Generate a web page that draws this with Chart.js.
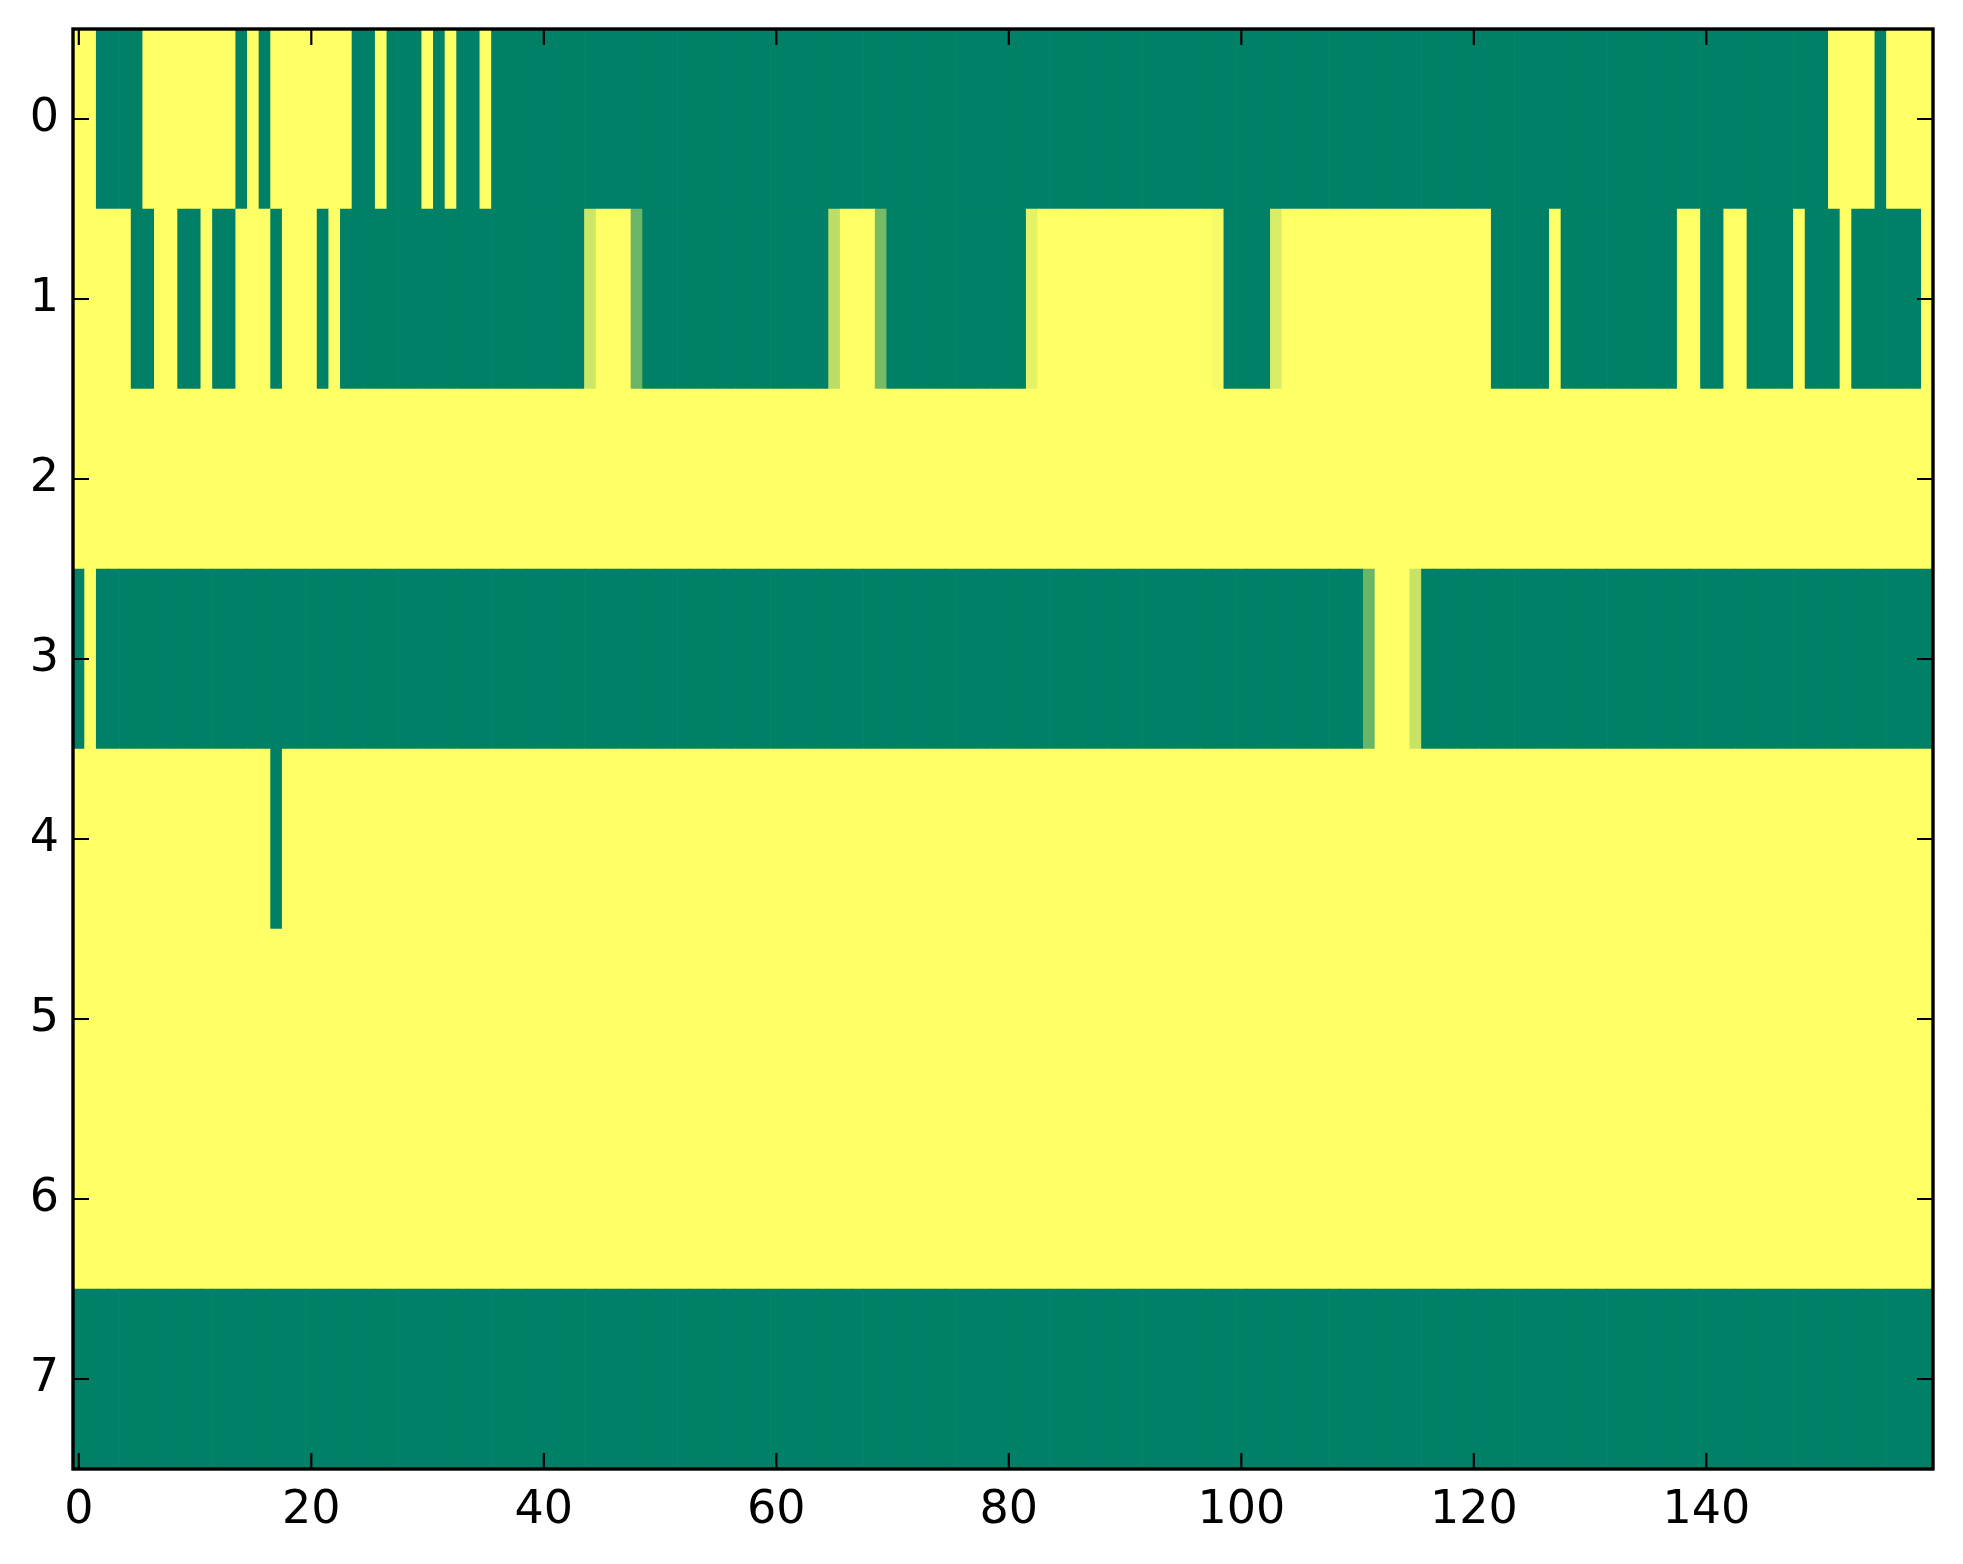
<!DOCTYPE html>
<html>
<head>
<meta charset="utf-8">
<script src="https://cdn.jsdelivr.net/npm/chart.js@4.4.1/dist/chart.umd.min.js"></script>
<style>
  html, body { margin: 0; padding: 0; background: #ffffff; }
  #wrap { width: 1963px; height: 1564px; }
</style>
</head>
<body>
<div id="wrap"><canvas id="c" width="1963" height="1564"></canvas></div>
<script>
// ---- data (cell values, 0 = green, 1 = yellow, "summer" colormap) ----
const rowLabels = ['0', '1', '2', '3', '4', '5', '6', '7'];
const xTickValues = [0, 20, 40, 60, 80, 100, 120, 140];

const row0 = [
  1,1,0,0,0,0,1,1,1,1,1,1,1,1,0,1,0,1,1,1,
  1,1,1,1,0,0,1,0,0,0,1,0,1,0,0,1,0,0,0,0,
  0,0,0,0,0,0,0,0,0,0,0,0,0,0,0,0,0,0,0,0,
  0,0,0,0,0,0,0,0,0,0,0,0,0,0,0,0,0,0,0,0,
  0,0,0,0,0,0,0,0,0,0,0,0,0,0,0,0,0,0,0,0,
  0,0,0,0,0,0,0,0,0,0,0,0,0,0,0,0,0,0,0,0,
  0,0,0,0,0,0,0,0,0,0,0,0,0,0,0,0,0,0,0,0,
  0,0,0,0,0,0,0,0,0,0,0,1,1,1,1,0,1,1,1,1
];
const row1 = [
  1,1,1,1,1,0,0,1,1,0,0,1,0,0,1,1,1,0,1,1,
  1,0,1,0,0,0,0,0,0,0,0,0,0,0,0,0,0,0,0,0,
  0,0,0,0,0.8,1,1,1,0.42,0,0,0,0,0,0,0,0,0,0,0,
  0,0,0,0,0,0.74,1,1,1,0.47,0,0,0,0,0,0,0,0,0,0,
  0,0,0.9,1,1,1,1,1,1,1,1,1,1,1,1,1,1,1,0.96,0,
  0,0,0,0.85,1,1,1,1,1,1,1,1,1,1,1,1,1,1,1,1,
  1,1,0,0,0,0,0,1,0,0,0,0,0,0,0,0,0,0,1,1,
  0,0,1,1,0,0,0,0,1,0,0,0,1,0,0,0,0,0,0,1
];
const row2 = [
  1,1,1,1,1,1,1,1,1,1,1,1,1,1,1,1,1,1,1,1,
  1,1,1,1,1,1,1,1,1,1,1,1,1,1,1,1,1,1,1,1,
  1,1,1,1,1,1,1,1,1,1,1,1,1,1,1,1,1,1,1,1,
  1,1,1,1,1,1,1,1,1,1,1,1,1,1,1,1,1,1,1,1,
  1,1,1,1,1,1,1,1,1,1,1,1,1,1,1,1,1,1,1,1,
  1,1,1,1,1,1,1,1,1,1,1,1,1,1,1,1,1,1,1,1,
  1,1,1,1,1,1,1,1,1,1,1,1,1,1,1,1,1,1,1,1,
  1,1,1,1,1,1,1,1,1,1,1,1,1,1,1,1,1,1,1,1
];
const row3 = [
  0,1,0,0,0,0,0,0,0,0,0,0,0,0,0,0,0,0,0,0,
  0,0,0,0,0,0,0,0,0,0,0,0,0,0,0,0,0,0,0,0,
  0,0,0,0,0,0,0,0,0,0,0,0,0,0,0,0,0,0,0,0,
  0,0,0,0,0,0,0,0,0,0,0,0,0,0,0,0,0,0,0,0,
  0,0,0,0,0,0,0,0,0,0,0,0,0,0,0,0,0,0,0,0,
  0,0,0,0,0,0,0,0,0,0,0,0.42,1,1,1,0.78,0,0,0,0,
  0,0,0,0,0,0,0,0,0,0,0,0,0,0,0,0,0,0,0,0,
  0,0,0,0,0,0,0,0,0,0,0,0,0,0,0,0,0,0,0,0
];
const row4 = [
  1,1,1,1,1,1,1,1,1,1,1,1,1,1,1,1,1,0,1,1,
  1,1,1,1,1,1,1,1,1,1,1,1,1,1,1,1,1,1,1,1,
  1,1,1,1,1,1,1,1,1,1,1,1,1,1,1,1,1,1,1,1,
  1,1,1,1,1,1,1,1,1,1,1,1,1,1,1,1,1,1,1,1,
  1,1,1,1,1,1,1,1,1,1,1,1,1,1,1,1,1,1,1,1,
  1,1,1,1,1,1,1,1,1,1,1,1,1,1,1,1,1,1,1,1,
  1,1,1,1,1,1,1,1,1,1,1,1,1,1,1,1,1,1,1,1,
  1,1,1,1,1,1,1,1,1,1,1,1,1,1,1,1,1,1,1,1
];
const row5 = [
  1,1,1,1,1,1,1,1,1,1,1,1,1,1,1,1,1,1,1,1,
  1,1,1,1,1,1,1,1,1,1,1,1,1,1,1,1,1,1,1,1,
  1,1,1,1,1,1,1,1,1,1,1,1,1,1,1,1,1,1,1,1,
  1,1,1,1,1,1,1,1,1,1,1,1,1,1,1,1,1,1,1,1,
  1,1,1,1,1,1,1,1,1,1,1,1,1,1,1,1,1,1,1,1,
  1,1,1,1,1,1,1,1,1,1,1,1,1,1,1,1,1,1,1,1,
  1,1,1,1,1,1,1,1,1,1,1,1,1,1,1,1,1,1,1,1,
  1,1,1,1,1,1,1,1,1,1,1,1,1,1,1,1,1,1,1,1
];
const row6 = [
  1,1,1,1,1,1,1,1,1,1,1,1,1,1,1,1,1,1,1,1,
  1,1,1,1,1,1,1,1,1,1,1,1,1,1,1,1,1,1,1,1,
  1,1,1,1,1,1,1,1,1,1,1,1,1,1,1,1,1,1,1,1,
  1,1,1,1,1,1,1,1,1,1,1,1,1,1,1,1,1,1,1,1,
  1,1,1,1,1,1,1,1,1,1,1,1,1,1,1,1,1,1,1,1,
  1,1,1,1,1,1,1,1,1,1,1,1,1,1,1,1,1,1,1,1,
  1,1,1,1,1,1,1,1,1,1,1,1,1,1,1,1,1,1,1,1,
  1,1,1,1,1,1,1,1,1,1,1,1,1,1,1,1,1,1,1,1
];
const row7 = [
  0,0,0,0,0,0,0,0,0,0,0,0,0,0,0,0,0,0,0,0,
  0,0,0,0,0,0,0,0,0,0,0,0,0,0,0,0,0,0,0,0,
  0,0,0,0,0,0,0,0,0,0,0,0,0,0,0,0,0,0,0,0,
  0,0,0,0,0,0,0,0,0,0,0,0,0,0,0,0,0,0,0,0,
  0,0,0,0,0,0,0,0,0,0,0,0,0,0,0,0,0,0,0,0,
  0,0,0,0,0,0,0,0,0,0,0,0,0,0,0,0,0,0,0,0,
  0,0,0,0,0,0,0,0,0,0,0,0,0,0,0,0,0,0,0,0,
  0,0,0,0,0,0,0,0,0,0,0,0,0,0,0,0,0,0,0,0
];
const rows = [row0, row1, row2, row3, row4, row5, row6, row7];

// ---- colormap (matplotlib "summer") ----
function summer(v) {
  const r = Math.round(255 * v);
  const g = Math.round(255 * (0.5 + 0.5 * v));
  const b = Math.round(255 * 0.4);
  return `rgb(${r},${g},${b})`;
}

const cells = [];
const cellColors = [];
rows.forEach((vals, r) => {
  vals.forEach((v, c) => {
    cells.push({ y: rowLabels[r], x: [c - 0.5, c + 0.5] });
    cellColors.push(summer(v));
  });
});
const nCols = row0.length;

const FONT = { family: 'DejaVu Sans', size: 46 };

const frameAndTicks = {
  id: 'frameAndTicks',
  afterDraw(chart) {
    const { ctx, chartArea: { left, right, top, bottom }, scales: { x, y } } = chart;
    const len = 16;
    ctx.save();
    ctx.strokeStyle = '#000';
    ctx.lineWidth = 2.2;
    ctx.beginPath();
    x.ticks.forEach(t => {
      const px = x.getPixelForValue(t.value);
      ctx.moveTo(px, bottom); ctx.lineTo(px, bottom - len);
      ctx.moveTo(px, top); ctx.lineTo(px, top + len);
    });
    y.ticks.forEach((t, i) => {
      const py = y.getPixelForTick(i);
      ctx.moveTo(left, py); ctx.lineTo(left + len, py);
      ctx.moveTo(right, py); ctx.lineTo(right - len, py);
    });
    ctx.stroke();
    ctx.lineWidth = 3.4;
    ctx.strokeRect(left, top, right - left, bottom - top);
    ctx.restore();
  }
};

new Chart(document.getElementById('c'), {
  type: 'bar',
  data: {
    labels: rowLabels,
    datasets: [{
      data: cells,
      backgroundColor: cellColors,
      borderWidth: 0,
      barPercentage: 1,
      categoryPercentage: 1
    }]
  },
  options: {
    indexAxis: 'y',
    responsive: false,
    animation: false,
    devicePixelRatio: 1,
    layout: { padding: { left: 0, right: 30, top: 29, bottom: 0 } },
    plugins: { legend: { display: false }, tooltip: { enabled: false } },
    scales: {
      x: {
        type: 'linear',
        min: -0.5,
        max: nCols - 0.5,
        grid: { display: false, drawTicks: false },
        border: { display: false },
        afterBuildTicks: (scale) => { scale.ticks = xTickValues.map(v => ({ value: v })); },
        afterFit: (scale) => { scale.height = 95; scale.paddingLeft = 0; scale.paddingRight = 0; },
        ticks: { font: FONT, color: '#000', padding: 14, maxRotation: 0, autoSkip: false }
      },
      y: {
        type: 'category',
        labels: rowLabels,
        offset: true,
        grid: { display: false, drawTicks: false, offset: true },
        border: { display: false },
        afterFit: (scale) => { scale.width = 73; scale.paddingTop = 0; scale.paddingBottom = 0; },
        ticks: { font: FONT, color: '#000', padding: 14 }
      }
    }
  },
  plugins: [frameAndTicks]
});
</script>
</body>
</html>
